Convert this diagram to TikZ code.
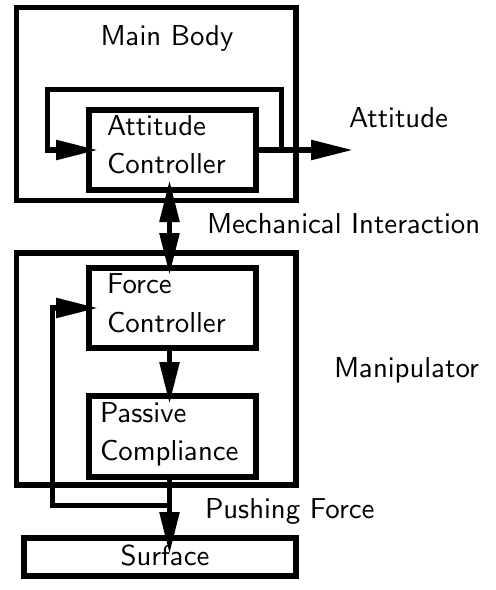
\documentclass[tikz,border=0pt]{standalone}
\usetikzlibrary{arrows.meta,calc}
\font\diafontraw=cmss10 at 28.8pt
\newcommand\diafont{\diafontraw}
\begin{document}
\begin{tikzpicture}[x=1pt,y=-1pt,
  box/.style={draw, line width=5.5pt, inner sep=0pt, outer sep=0pt},
  lbl/.style={inner sep=0pt, outer sep=0pt, font=\diafont, anchor=base west},
  conn/.style={line width=5.5pt, line join=miter},
  arr/.style={conn, -{Triangle[length=42pt,width=19pt]}},
  darr/.style={conn, {Triangle[length=42pt,width=19pt]}-{Triangle[length=42pt,width=19pt]}}]
\useasboundingbox (0,0) rectangle (496,590);
% boxes
\node[box, minimum width=279.5pt, minimum height=193pt] (mb) at (156.25,104) {};
\node[box, minimum width=167pt, minimum height=80pt] (ac) at (172.5,150) {};
\node[box, minimum width=279.5pt, minimum height=232pt] (mp) at (156.25,369) {};
\node[box, minimum width=167pt, minimum height=80pt] (fc) at (172.5,308) {};
\node[box, minimum width=167pt, minimum height=81pt] (pc) at (172.5,436.5) {};
\node[box, minimum width=272pt, minimum height=38pt] (sf) at (160,557) {};
% texts
\node[lbl, anchor=base] (tmb) at (167,45) {Main Body};
\node[lbl] (tac1) at (107,135) {Attitude};
\node[lbl] (tac2) at (107,173) {Controller};
\node[lbl] (tatt) at (349,127) {Attitude};
\node[lbl] (tmech) at (207,233) {Mechanical Interaction};
\node[lbl] (tfc1) at (107,293) {Force};
\node[lbl] (tfc2) at (107,332) {Controller};
\node[lbl] (tman) at (334,377) {Manipulator};
\node[lbl] (tpc1) at (100,422) {Passive};
\node[lbl] (tpc2) at (100,460) {Compliance};
\node[lbl] (tpush) at (205,518) {Pushing Force};
\node[lbl, anchor=base] (tsf) at (165,565) {Surface};
% connectors
\draw[arr] (ac.east) -- ++(97,0) coordinate (attout);
\draw[arr] ($(ac.east)+(25.5,0)$) |- ($(ac.north west)+(-41.5,-20.5)$) |- ($(ac.west)+(9,0)$);
\draw[darr] ($(ac.south)+(-3,-10)$) -- ($(fc.north)+(-3,7)$);
\draw[arr] ($(fc.south)+(-3,0)$) -- ($(pc.north)+(-3,8)$);
\draw[arr] ($(pc.south)+(-3,0)$) -- ($(sf.north)+(9.5,16)$);
\draw[arr] ($(pc.south)+(-3,28.5)$) -| ($(fc.west)+(-36.5,0)$) -- ($(fc.west)+(9,0)$);
\end{tikzpicture}
\end{document}
